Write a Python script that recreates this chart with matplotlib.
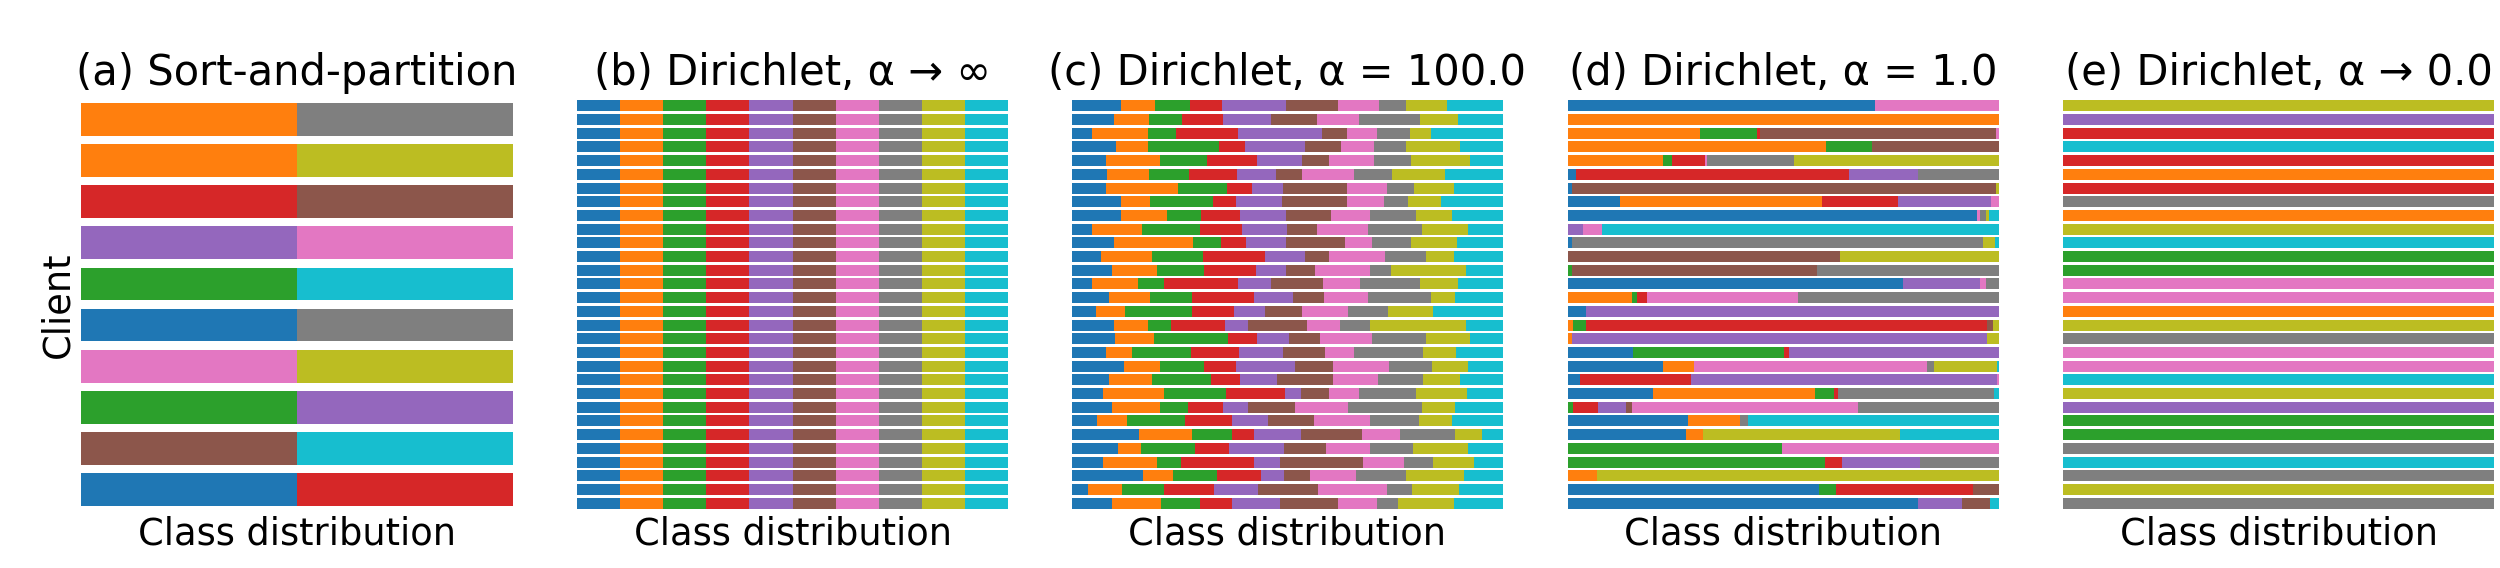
import numpy as np
import matplotlib
matplotlib.use("Agg")
import matplotlib.pyplot as plt

# ---- data -------------------------------------------------------------
N_CLASSES = 10

titles = [
    "(a) Sort-and-partition",
    "(b) Dirichlet, α → ∞",
    "(c) Dirichlet, α = 100.0",
    "(d) Dirichlet, α = 1.0",
    "(e) Dirichlet, α → 0.0",
]

# (a) each client holds two classes, half and half (top row first)
sort_partition_pairs = [
    (1, 7), (1, 8), (3, 5), (4, 6), (2, 9),
    (0, 7), (6, 8), (2, 4), (5, 9), (0, 3),
]
sort_partition_share = [50.0, 50.0]

# (b) 30 clients, uniform class mix
n_clients_iid = 30
iid_share = [10.0] * N_CLASSES

# (c) alpha = 100: cumulative class share (%) at the end of classes 0..8, top row first
cum_alpha100 = [
    [11.4, 19.3, 27.4, 34.9, 49.7, 61.9, 71.4, 77.6, 87.0],
    [9.7, 17.9, 25.5, 35.2, 46.3, 57.0, 66.6, 80.7, 89.6],
    [4.6, 17.8, 24.1, 38.5, 58.1, 63.8, 70.8, 78.4, 83.4],
    [10.2, 17.6, 34.1, 40.3, 54.1, 62.4, 70.1, 77.6, 90.2],
    [7.9, 20.5, 31.3, 42.9, 53.4, 59.7, 70.1, 78.8, 92.5],
    [8.3, 17.9, 27.3, 38.3, 47.5, 53.5, 65.5, 74.3, 86.5],
    [7.9, 24.6, 36.1, 41.9, 49.0, 63.9, 73.1, 79.5, 88.8],
    [11.4, 18.2, 32.8, 38.1, 48.9, 63.9, 72.4, 78.0, 85.7],
    [11.4, 22.2, 30.1, 39.0, 49.7, 60.2, 69.1, 79.9, 88.3],
    [4.8, 16.4, 29.7, 39.4, 50.0, 56.8, 68.7, 81.3, 92.0],
    [9.7, 28.2, 34.7, 40.5, 49.7, 63.5, 69.7, 78.8, 89.4],
    [6.9, 18.7, 30.5, 44.9, 54.2, 59.7, 72.7, 82.1, 88.8],
    [9.3, 19.9, 30.7, 42.7, 49.8, 56.5, 69.3, 74.0, 91.4],
    [4.8, 15.4, 21.5, 38.5, 46.3, 58.3, 66.9, 80.7, 89.6],
    [8.6, 18.1, 27.8, 42.3, 51.4, 58.5, 68.8, 83.4, 89.0],
    [5.6, 12.4, 27.8, 37.7, 44.9, 53.5, 64.2, 73.4, 83.8],
    [9.7, 17.6, 23.0, 35.5, 40.9, 54.6, 62.3, 69.3, 91.5],
    [10.0, 19.1, 36.3, 42.9, 50.4, 57.5, 69.6, 82.2, 92.5],
    [7.9, 13.9, 27.6, 38.8, 49.0, 58.7, 65.5, 81.6, 89.2],
    [12.1, 20.4, 30.6, 38.2, 51.7, 60.6, 73.7, 83.6, 91.9],
    [8.7, 18.7, 32.4, 39.0, 47.6, 60.6, 71.0, 81.6, 90.2],
    [7.3, 21.5, 35.9, 49.6, 53.1, 59.7, 66.6, 79.9, 91.7],
    [9.3, 20.6, 26.9, 35.1, 40.9, 51.9, 64.1, 81.2, 89.0],
    [5.9, 12.9, 26.3, 37.1, 45.6, 56.2, 69.1, 80.5, 88.2],
    [15.6, 28.0, 37.1, 42.2, 53.1, 67.4, 76.1, 89.0, 95.1],
    [10.7, 16.1, 28.7, 36.5, 49.3, 58.9, 69.2, 79.3, 92.0],
    [7.3, 19.9, 25.3, 42.2, 48.3, 67.7, 77.0, 83.8, 93.3],
    [16.6, 23.6, 33.6, 44.0, 49.3, 55.2, 65.9, 77.6, 91.1],
    [3.7, 11.7, 21.4, 33.0, 43.2, 57.1, 73.1, 79.0, 89.8],
    [9.3, 20.7, 29.7, 37.1, 48.4, 61.9, 70.9, 75.7, 88.8],
]

# (d) alpha = 1.0: cumulative class share (%) at the end of classes 0..8, top row first
cum_alpha1 = [
    [71.2, 71.2, 71.2, 71.2, 71.2, 71.4, 100, 100, 100],
    [0, 100, 100, 100, 100, 100, 100, 100, 100],
    [0, 30.7, 44.0, 44.7, 44.7, 99.4, 100, 100, 100],
    [0, 60.0, 70.6, 70.6, 70.6, 100, 100, 100, 100],
    [0, 22.2, 24.1, 31.9, 31.9, 31.9, 32.4, 52.6, 100],
    [1.9, 1.9, 1.9, 65.2, 81.3, 81.3, 81.3, 100, 100],
    [0.9, 0.9, 0.9, 0.9, 0.9, 99.4, 99.4, 99.4, 100],
    [12.2, 59.0, 59.0, 76.6, 98.2, 98.2, 100, 100, 100],
    [95.0, 95.0, 95.0, 95.0, 95.0, 95.0, 95.7, 97.1, 97.7],
    [0, 0, 0, 0, 3.6, 3.6, 7.9, 7.9, 7.9],
    [1.1, 1.1, 1.1, 1.1, 1.1, 1.1, 1.1, 96.4, 99.1],
    [0, 0, 0, 0, 0, 63.1, 63.1, 63.1, 100],
    [0, 0, 1.1, 1.1, 1.1, 57.8, 57.8, 100, 100],
    [77.9, 77.9, 77.9, 77.9, 95.7, 95.7, 97.1, 100, 100],
    [0, 14.9, 16.0, 18.3, 18.3, 18.3, 53.4, 100, 100],
    [4.2, 4.2, 4.2, 4.2, 100, 100, 100, 100, 100],
    [0, 1.3, 4.2, 97.4, 97.4, 98.6, 98.6, 98.6, 100],
    [0, 1.1, 1.1, 1.1, 97.3, 97.3, 97.3, 97.3, 100],
    [15.1, 15.1, 50.3, 51.4, 100, 100, 100, 100, 100],
    [22.1, 29.3, 29.3, 29.3, 29.3, 29.3, 83.4, 84.9, 99.5],
    [2.9, 2.9, 2.9, 28.6, 99.6, 99.6, 100, 100, 100],
    [19.7, 57.4, 61.7, 62.7, 62.7, 62.7, 62.7, 98.8, 98.8],
    [0, 0, 1.3, 7.0, 13.5, 14.9, 67.3, 100, 100],
    [27.9, 40.0, 40.0, 40.0, 40.0, 40.0, 40.0, 41.8, 41.8],
    [27.5, 31.5, 31.5, 31.5, 31.5, 31.5, 31.5, 31.5, 77.2],
    [0, 0, 49.7, 49.7, 49.7, 49.7, 100, 100, 100],
    [0, 0, 59.8, 63.6, 81.7, 81.7, 81.7, 100, 100],
    [0, 6.7, 6.7, 6.7, 6.7, 6.7, 6.7, 6.7, 100],
    [58.4, 58.4, 62.2, 94.0, 94.0, 100, 100, 100, 100],
    [81.3, 81.3, 81.3, 81.3, 91.5, 97.9, 97.9, 97.9, 97.9],
]

# (e) alpha -> 0: one class per client, top row first
single_class = [
    8, 4, 3, 9, 3, 1, 3, 7, 1, 8,
    9, 2, 2, 6, 6, 1, 8, 7, 6, 6,
    9, 8, 4, 2, 2, 7, 9, 7, 8, 7,
]


def cum_to_share(cum_rows):
    cum = np.array(cum_rows, dtype=float)
    cum = np.hstack([np.zeros((len(cum), 1)), cum, np.full((len(cum), 1), 100.0)])
    return np.diff(cum, axis=1)


def build_matrices():
    # client x class share matrices (percent), top row first
    a = np.zeros((len(sort_partition_pairs), N_CLASSES))
    for i, pair in enumerate(sort_partition_pairs):
        for c, s in zip(pair, sort_partition_share):
            a[i, c] = s
    b = np.tile(iid_share, (n_clients_iid, 1))
    c = cum_to_share(cum_alpha100)
    d = cum_to_share(cum_alpha1)
    e = np.zeros((len(single_class), N_CLASSES))
    e[np.arange(len(single_class)), single_class] = 100.0
    return [a, b, c, d, e]


def draw_panel(ax, shares, title):
    colors = plt.get_cmap("tab10").colors
    n = shares.shape[0]
    y = np.arange(n)[::-1]  # first client on top
    left = np.zeros(n)
    for k in range(N_CLASSES):
        ax.barh(y, shares[:, k], left=left, height=0.8, color=colors[k], linewidth=0)
        left = left + shares[:, k]
    ax.set_xlim(0, 100)
    ax.set_ylim(-0.5, n - 0.5)
    ax.set_xticks([])
    ax.set_yticks([])
    for sp in ax.spines.values():
        sp.set_visible(False)
    ax.set_title(title, fontsize=30, pad=10)
    ax.set_xlabel("Class distribution", fontsize=26.5)


def main():
    fig = plt.figure(figsize=(25, 5.68), dpi=100)
    lefts = [81.5, 577, 1071.7, 1567.7, 2063]
    mats = build_matrices()
    axes = []
    for lx, mat, title in zip(lefts, mats, titles):
        ax = fig.add_axes([lx / 2500, 58 / 568, 431 / 2500, 411 / 568])
        draw_panel(ax, mat, title)
        axes.append(ax)
    axes[0].set_ylabel("Client", fontsize=26.5)
    fig.savefig("out.png", dpi=100, facecolor="white")


if __name__ == "__main__":
    main()
